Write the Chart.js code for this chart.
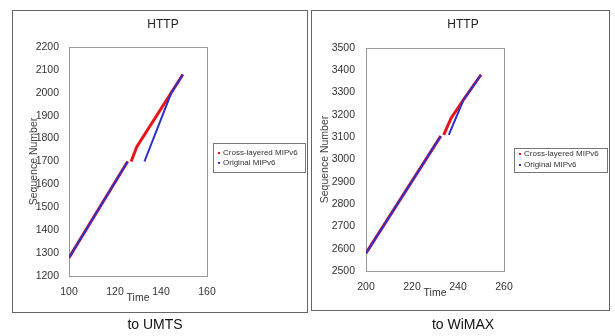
<!DOCTYPE html>
<html>
<head>
<meta charset="utf-8">
<script src="https://cdn.jsdelivr.net/npm/chart.js@4/dist/chart.umd.min.js"></script>
<style>
  body { margin: 0; background: #fff; width: 615px; height: 336px; position: relative; overflow: hidden;
         font-family: "Liberation Sans", Arial, sans-serif; }
  canvas { position: absolute; }
  .frame { position: absolute; border: 1px solid #666; box-sizing: border-box; pointer-events: none; }
  .cap { position: absolute; width: 200px; text-align: center; font-size: 14px; color: #111; }
</style>
</head>
<body>
<canvas id="umts" width="296" height="303" style="left:12px;top:10px"></canvas>
<div class="frame" style="left:12px;top:10px;width:296px;height:303px"></div>
<canvas id="wimax" width="299" height="301" style="left:311px;top:10px"></canvas>
<div class="frame" style="left:311px;top:10px;width:299px;height:301px"></div>
<div class="cap" style="left:55px;top:316px">to UMTS</div>
<div class="cap" style="left:363px;top:316px">to WiMAX</div>
<script>
// series labels
const seriesLabels = ['Cross-layered MIPv6', 'Original MIPv6'];
const chartTitle = 'HTTP';

// handover to UMTS (null = gap in the trace)
const umtsCrossTime = [100, 125.5, 126, 127, 129.5, 149.5];
const umtsCrossSeq  = [1280, 1700, null, 1700, 1765, 2080];
const umtsOrigTime  = [100, 125.5, 126, 132.8, 144.5, 149.5];
const umtsOrigSeq   = [1280, 1700, null, 1700, 2000, 2080];

// handover to WiMAX
const wimaxCrossTime = [200, 232.5, 233, 233.8, 237, 242.5, 250];
const wimaxCrossSeq  = [2580, 3105, null, 3110, 3185, 3270, 3380];
const wimaxOrigTime  = [200, 232.5, 233, 236, 242.5, 250];
const wimaxOrigSeq   = [2580, 3105, null, 3110, 3270, 3380];

const FONT = '"Liberation Sans", Arial, sans-serif';

function toPoints(xs, ys) {
  return xs.map((x, i) => ({ x: x, y: ys[i] }));
}

// gray box around the plot area
const plotFrame = {
  id: 'plotFrame',
  beforeDatasetsDraw(chart) {
    const a = chart.chartArea, ctx = chart.ctx;
    ctx.save();
    ctx.strokeStyle = '#999';
    ctx.lineWidth = 1;
    ctx.strokeRect(Math.round(a.left) + 0.5, Math.round(a.top) + 0.5,
                   Math.round(a.right - a.left), Math.round(a.bottom - a.top));
    ctx.restore();
  }
};

// title centred on the whole panel, not just the plot area
const panelTitle = {
  id: 'panelTitle',
  afterDraw(chart, args, o) {
    const ctx = chart.ctx;
    ctx.save();
    ctx.font = '12px ' + FONT;
    ctx.fillStyle = '#222';
    ctx.textAlign = 'center';
    ctx.textBaseline = 'middle';
    ctx.fillText(o.text, o.x, o.y);
    ctx.restore();
  }
};

// legend drawn inside a bordered box, Excel style
const boxedLegend = {
  id: 'boxedLegend',
  afterDraw(chart, args, o) {
    const ctx = chart.ctx;
    ctx.save();
    ctx.strokeStyle = '#777';
    ctx.lineWidth = 1;
    ctx.strokeRect(o.x + 0.5, o.y + 0.5, o.w, o.h);
    ctx.font = '8px ' + FONT;
    ctx.textBaseline = 'middle';
    chart.data.datasets.forEach((ds, i) => {
      const y = o.y + o.first + i * o.gap;
      ctx.fillStyle = ds.borderColor;
      ctx.fillRect(o.x + 5, y - 1, 2, 2);
      ctx.fillStyle = '#333';
      ctx.fillText(ds.label, o.x + 10, y);
    });
    ctx.restore();
  }
};

function makeChart(id, cfg) {
  return new Chart(document.getElementById(id), {
    type: 'line',
    data: {
      datasets: [
        { label: seriesLabels[0], data: toPoints(cfg.crossTime, cfg.crossSeq),
          borderColor: '#e8141a', borderWidth: 3, order: 2 },
        { label: seriesLabels[1], data: toPoints(cfg.origTime, cfg.origSeq),
          borderColor: '#3030c8', borderWidth: 2, order: 1 }
      ]
    },
    options: {
      responsive: false,
      animation: false,
      spanGaps: false,
      elements: { point: { radius: 0 }, line: { tension: 0 } },
      layout: { padding: { left: 0, top: cfg.padTop, right: cfg.padRight, bottom: 0 } },
      scales: {
        x: {
          type: 'linear', min: cfg.xMin, max: cfg.xMax,
          afterFit: s => { s.height = cfg.xHeight; },
          grid: { display: false, drawTicks: false },
          border: { display: false },
          ticks: { stepSize: 20, padding: 10, color: '#333', font: { family: FONT, size: 10.5 },
                   callback: v => String(v) },
          title: { display: true, text: 'Time', color: '#333', font: { family: FONT, size: 10.5 },
                   padding: { top: 0, bottom: cfg.timePad } }
        },
        y: {
          min: cfg.yMin, max: cfg.yMax,
          afterFit: s => { s.width = cfg.yWidth; },
          grid: { display: false, drawTicks: false },
          border: { display: false },
          ticks: { stepSize: 100, padding: cfg.yTickPad, color: '#333', font: { family: FONT, size: 10.5 },
                   callback: v => String(v) },
          title: { display: true, text: 'Sequence Number', color: '#444', font: { family: FONT, size: 10.5 },
                   padding: { top: cfg.seqPad, bottom: 0 } }
        }
      },
      plugins: {
        legend: { display: false },
        tooltip: { enabled: false },
        title: { display: false },
        panelTitle: { text: chartTitle, x: cfg.titleX, y: 15 },
        boxedLegend: cfg.legend
      }
    },
    plugins: [plotFrame, panelTitle, boxedLegend]
  });
}

makeChart('umts', {
  crossTime: umtsCrossTime, crossSeq: umtsCrossSeq,
  origTime: umtsOrigTime, origSeq: umtsOrigSeq,
  xMin: 100, xMax: 160, yMin: 1200, yMax: 2200,
  padTop: 37, padRight: 101, xHeight: 37, yWidth: 57, yTickPad: 10,
  timePad: 9, seqPad: 16, titleX: 151,
  legend: { x: 201, y: 133, w: 92, h: 29, first: 10, gap: 10 }
});

makeChart('wimax', {
  crossTime: wimaxCrossTime, crossSeq: wimaxCrossSeq,
  origTime: wimaxOrigTime, origSeq: wimaxOrigSeq,
  xMin: 200, xMax: 260, yMin: 2500, yMax: 3500,
  padTop: 38, padRight: 106, xHeight: 40, yWidth: 55, yTickPad: 11,
  timePad: 12, seqPad: 8, titleX: 152,
  legend: { x: 203, y: 138, w: 93, h: 24, first: 6, gap: 11 }
});
</script>
</body>
</html>
